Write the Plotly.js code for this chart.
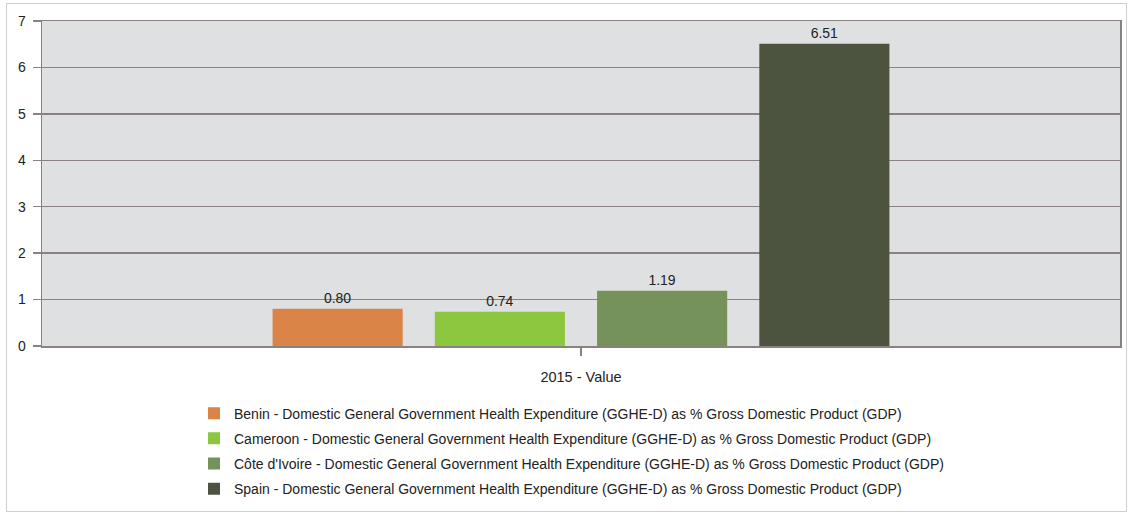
<!DOCTYPE html>
<html>
<head>
<meta charset="utf-8">
<script src="https://cdn.plot.ly/plotly-3.0.1.min.js"></script>
<style>
  body { margin: 0; padding: 0; background: #fff; }
  #wrap { position: relative; width: 1132px; height: 515px; }
  #chart { width: 1132px; height: 515px; }
  #frame { position: absolute; left: 6px; top: 3px; width: 1121px; height: 509px;
           border: 1.5px solid #cfcfcf; pointer-events: none; box-sizing: border-box; }
</style>
</head>
<body>
<div id="wrap">
  <div id="chart"></div>
  <div id="frame"></div>
</div>
<script>
const categories = ["2015 - Value"];
const seriesNames = [
  "Benin - Domestic General Government Health Expenditure (GGHE-D) as % Gross Domestic Product (GDP)",
  "Cameroon - Domestic General Government Health Expenditure (GGHE-D) as % Gross Domestic Product (GDP)",
  "Côte d'Ivoire - Domestic General Government Health Expenditure (GGHE-D) as % Gross Domestic Product (GDP)",
  "Spain - Domestic General Government Health Expenditure (GGHE-D) as % Gross Domestic Product (GDP)"
];
const values = [0.80, 0.74, 1.19, 6.51];
const colors = ["#DB8447", "#8DC63F", "#76925B", "#4C5440"];
const yTicks = [0, 1, 2, 3, 4, 5, 6, 7];

const font = "Liberation Sans, Arial, sans-serif";
const gridCol = "#8a8282";

const traces = seriesNames.map((name, i) => ({
  type: "bar",
  name: name,
  x: categories,
  y: [values[i]],
  marker: { color: colors[i] },
  text: [values[i].toFixed(2)],
  texttemplate: "%{text}",
  textposition: "outside",
  cliponaxis: false,
  textfont: { family: font, size: 14, color: "#222" },
  legendgroup: "g" + i,
  hoverinfo: "none"
}));

const layout = {
  width: 1132,
  height: 515,
  margin: { l: 42, r: 12, t: 21, b: 168 },
  paper_bgcolor: "#ffffff",
  plot_bgcolor: "#dfe0e2",
  barmode: "group",
  bargap: 0.398,
  bargroupgap: 0.198,
  font: { family: font, size: 14, color: "#222" },
  showlegend: true,
  legend: {
    x: 0.141, xanchor: "left",
    y: -0.155, yanchor: "top",
    orientation: "v",
    tracegroupgap: 4,
    font: { family: font, size: 14, color: "#222" },
    bgcolor: "rgba(0,0,0,0)"
  },
  xaxis: {
    type: "category",
    showline: true, linecolor: gridCol, linewidth: 1.5,
    mirror: true,
    ticks: "outside", ticklen: 8, tickcolor: gridCol, tickwidth: 1.5,
    ticklabelstandoff: 9,
    tickfont: { family: font, size: 14.5, color: "#222" },
    showgrid: false,
    zeroline: false,
    fixedrange: true
  },
  yaxis: {
    range: [0, 7],
    tickvals: yTicks,
    ticktext: yTicks.map(String),
    showline: true, linecolor: gridCol, linewidth: 1.5,
    mirror: true,
    ticks: "outside", ticklen: 8, tickcolor: gridCol, tickwidth: 1.5,
    ticklabelstandoff: 4,
    showgrid: true, gridcolor: gridCol, gridwidth: 1.5,
    zeroline: false,
    tickfont: { family: font, size: 14, color: "#222" },
    fixedrange: true
  }
};

Plotly.newPlot("chart", traces, layout, { displayModeBar: false, staticPlot: true });
</script>
</body>
</html>
